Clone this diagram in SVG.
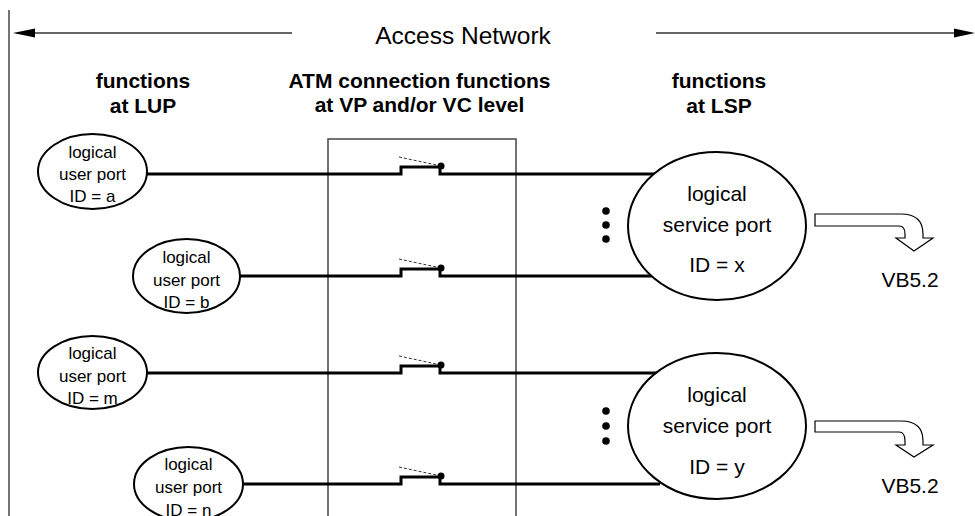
<svg xmlns="http://www.w3.org/2000/svg" width="975" height="516" viewBox="0 0 975 516">
<style>
text{font-family:"Liberation Sans",Arial,sans-serif;fill:#000;text-anchor:middle}
.hdr{font-size:21px;font-weight:bold}
.up{font-size:17px}
.sp{font-size:21px}
.frame{fill:none;stroke:#444;stroke-width:1.5}
.wire{fill:none;stroke:#000;stroke-width:3}
.dash{stroke:#333;stroke-width:1;stroke-dasharray:3 2}
.port{fill:#fff;stroke:#000;stroke-width:2}
.hollow{fill:#fff;stroke:#000;stroke-width:1.2}
.dim{stroke:#333;stroke-width:1.3}
</style>
<g id="frame">
<line class="frame" x1="9" y1="10" x2="9" y2="516"/>
<rect class="frame" x="328" y="139" width="188" height="400"/>
</g>
<g id="access-network">
<line class="dim" x1="32" y1="33" x2="292" y2="33"/>
<polygon points="13,33 35,28.5 35,37.5" fill="#000"/>
<line class="dim" x1="656" y1="33" x2="956" y2="33"/>
<polygon points="975,33 954,28.5 954,37.5" fill="#000"/>
<text x="463" y="44" style="font-size:24.5px">Access Network</text>
</g>
<g id="headers">
<text class="hdr" x="143" y="88">functions</text>
<text class="hdr" x="143" y="113">at LUP</text>
<text class="hdr" x="419.5" y="88">ATM connection functions</text>
<text class="hdr" x="419.5" y="112">at VP and/or VC level</text>
<text class="hdr" x="719" y="88">functions</text>
<text class="hdr" x="719" y="113">at LSP</text>
</g>
<g id="connectors">
<path class="wire" d="M147,174 H401 V167 H440 V174 H660"/>
<path class="wire" d="M240,276 H401 V269 H440 V276 H660"/>
<path class="wire" d="M147,373 H401 V366 H440 V373 H660"/>
<path class="wire" d="M243,484 H401 V477 H440 V484 H660"/>
<line class="dash" x1="399" y1="157" x2="441" y2="166"/>
<line class="dash" x1="399" y1="259" x2="441" y2="268"/>
<line class="dash" x1="399" y1="356" x2="441" y2="365"/>
<line class="dash" x1="399" y1="467" x2="441" y2="476"/>
<circle cx="441" cy="166" r="3.5"/>
<circle cx="441" cy="268" r="3.5"/>
<circle cx="441" cy="365" r="3.5"/>
<circle cx="441" cy="476" r="3.5"/>
<circle cx="606" cy="211" r="3.8"/>
<circle cx="606" cy="225" r="3.8"/>
<circle cx="606" cy="239" r="3.8"/>
<circle cx="606" cy="411" r="3.8"/>
<circle cx="606" cy="426" r="3.8"/>
<circle cx="606" cy="441" r="3.8"/>
<path class="hollow" d="M815,214 H901 Q923,214 923,234 V238 H933 L914,251 L896,238 H905 V234 Q905,226 899,226 H815 Z"/>
<path class="hollow" d="M815,421 H901 Q923,421 923,441 V445 H933 L914,457 L896,445 H905 V441 Q905,432 899,432 H815 Z"/>
</g>
<g id="lup-a">
<ellipse class="port" cx="92.5" cy="171.5" rx="54.5" ry="37.5"/>
<text class="up" x="92.5" y="158">logical</text>
<text class="up" x="92.5" y="180">user port</text>
<text class="up" x="92.5" y="202">ID = a</text>
</g>
<g id="lup-b">
<ellipse class="port" cx="186.5" cy="276" rx="53.5" ry="37"/>
<text class="up" x="186.5" y="263">logical</text>
<text class="up" x="186.5" y="286">user port</text>
<text class="up" x="186.5" y="308">ID = b</text>
</g>
<g id="lup-m">
<ellipse class="port" cx="92.5" cy="372.5" rx="54.5" ry="36.5"/>
<text class="up" x="92.5" y="359">logical</text>
<text class="up" x="92.5" y="382">user port</text>
<text class="up" x="92.5" y="404">ID = m</text>
</g>
<g id="lup-n">
<ellipse class="port" cx="188.5" cy="484" rx="54.5" ry="37"/>
<text class="up" x="188.5" y="470">logical</text>
<text class="up" x="188.5" y="493">user port</text>
<text class="up" x="188.5" y="516">ID = n</text>
</g>
<g id="lsp-x">
<ellipse class="port" cx="717" cy="226" rx="89" ry="74"/>
<text class="sp" x="717" y="201">logical</text>
<text class="sp" x="717" y="232">service port</text>
<text class="sp" x="717" y="272">ID = x</text>
<text class="sp" x="910" y="287">VB5.2</text>
</g>
<g id="lsp-y">
<ellipse class="port" cx="717" cy="426" rx="89" ry="73"/>
<text class="sp" x="717" y="402">logical</text>
<text class="sp" x="717" y="433">service port</text>
<text class="sp" x="717" y="474">ID = y</text>
<text class="sp" x="910" y="493">VB5.2</text>
</g>
</svg>
